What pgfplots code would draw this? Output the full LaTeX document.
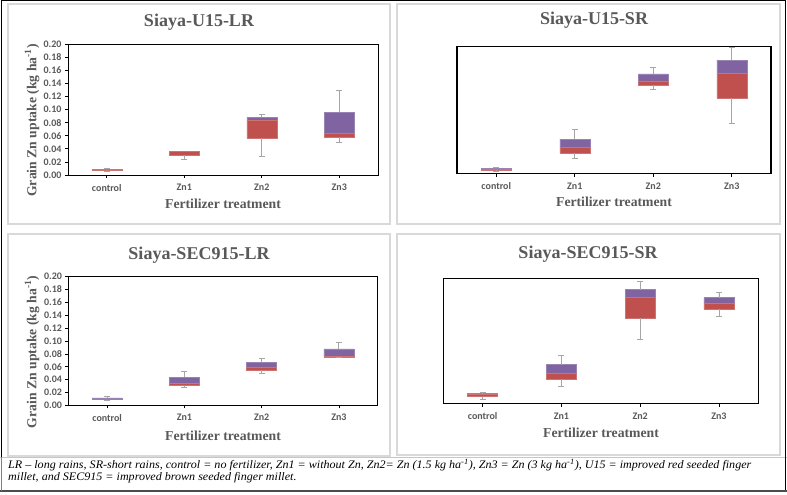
\documentclass[border=0pt]{standalone}
\usepackage{pgfplots}
\pgfplotsset{compat=1.18}
\usepackage{pgfplotstable}
\usepackage{fontspec}
\setmainfont{Liberation Serif}
\newfontfamily\calibri{Carlito}

\definecolor{boxred}{HTML}{C0504D}
\definecolor{boxpurple}{HTML}{8064A2}
\definecolor{txtgray}{HTML}{595959}
\definecolor{framegray}{HTML}{D9D9D9}
\definecolor{whiskergray}{HTML}{A6A6A6}

% five-number summaries: x, minimum, lower quartile, median, upper quartile, maximum
\pgfplotstableread{
x  min    q1     med    q3     max
0  0.005  0.0066 0.0084 0.0087 0.0095
1  0.024  0.030  0.0355 0.0360 0.0365
2  0.029  0.056  0.083  0.088  0.093
3  0.050  0.058  0.064  0.096  0.129
}\uLR
\pgfplotstableread{
x  min    q1     med    q3     max
0  0.004  0.0052 0.0065 0.0084 0.0105
1  0.024  0.0325 0.041  0.0546 0.070
2  0.133  0.140  0.146  0.157  0.1675
3  0.079  0.119  0.158  0.179  0.199
}\uSR
\pgfplotstableread{
x  min    q1     med    q3     max
0  0.0078 0.0088 0.0094 0.0114 0.0135
1  0.028  0.0306 0.0337 0.044  0.053
2  0.049  0.0544 0.0596 0.0668 0.0736
3  0.074  0.0751 0.0767 0.0876 0.098
}\sLR
\pgfplotstableread{
x  min    q1     med    q3     max
0  0.0064 0.0112 0.0149 0.016  0.018
1  0.028  0.0388 0.0484 0.0622 0.077
2  0.102  0.136  0.170  0.182  0.195
3  0.139  0.1505 0.161  0.169  0.177
}\sSR

\pgfplotsset{
  zbox/.style={
    scale only axis,
    xmin=-0.5, xmax=3.5, ymin=0, ymax=0.2,
    xtick={0,1,2,3}, xticklabels={control,Zn1,Zn2,Zn3},
    ytick={0,0.02,0.04,0.06,0.08,0.10,0.12,0.14,0.16,0.18,0.20},
    yticklabel style={/pgf/number format/.cd, fixed, fixed zerofill, precision=2},
    xticklabel style={yshift=-2.5pt},
    /pgf/number format/assume math mode=true,
    ybar stacked, bar width=30pt,
    tick align=outside, tick pos=left, major tick length=3pt,
    tick style={black, line width=0.6pt},
    ticklabel style={font=\calibri\bfseries\fontsize{10}{10}\selectfont, text=txtgray},
    clip=false,
  },
  noyticks/.style={ytick=\empty, axis line style={black, line width=1.4pt}},
  thinframe/.style={axis line style={black, line width=0.7pt}},
  error bars/whisk/.style={error bar style={draw=whiskergray, line width=0.8pt},
    error mark options={rotate=90, draw=whiskergray, mark size=3pt, line width=0.8pt}},
}

% one box-and-whisker series per table
\newcommand\boxes[1]{%
  \addplot[draw=none, fill=none, error bars/.cd, y dir=minus, y explicit, whisk]
    table[x=x, y=q1, y error minus expr=\thisrow{q1}-\thisrow{min}] {#1};
  \addplot[fill=boxred, draw=boxred!80!white, line width=0.5pt]
    table[x=x, y expr=\thisrow{med}-\thisrow{q1}] {#1};
  \addplot[fill=boxpurple, draw=boxpurple!80!white, line width=0.5pt,
    error bars/.cd, y dir=plus, y explicit, whisk]
    table[x=x, y expr=\thisrow{q3}-\thisrow{med}, y error plus expr=\thisrow{max}-\thisrow{q3}] {#1};
}

\begin{document}
\begin{tikzpicture}[x=1pt, y=1pt]
\useasboundingbox (0,0) rectangle (787,495);
\fill[white] (0,0) rectangle (787,495);

% chart frames
\draw[framegray, line width=1.2pt] (8,271) rectangle (390,491);
\draw[framegray, line width=1.2pt] (397,271) rectangle (780,491);
\draw[framegray, line width=1.2pt] (8,39) rectangle (390,261);
\draw[framegray, line width=1.2pt] (397,40) rectangle (780,261);

\begin{axis}[zbox, thinframe, at={(68pt,320pt)}, anchor=south west, width=310pt, height=131pt]
\boxes{\uLR}
\end{axis}
\begin{axis}[zbox, noyticks, at={(457pt,321.3pt)}, anchor=south west, width=314pt, height=127pt]
\boxes{\uSR}
\end{axis}
\begin{axis}[zbox, thinframe, at={(68.5pt,89.7pt)}, anchor=south west, width=309pt, height=128.6pt]
\boxes{\sLR}
\end{axis}
\begin{axis}[zbox, noyticks, at={(443.3pt,91.3pt)}, anchor=south west, width=315pt, height=125.4pt]
\boxes{\sSR}
\end{axis}

% titles and axis labels
\tikzset{ttl/.style={text=txtgray, font=\bfseries\fontsize{18}{18}\selectfont, inner sep=0pt},
         lbl/.style={text=txtgray, font=\bfseries\fontsize{13.7}{14}\selectfont, inner sep=0pt}}
\node[ttl] at (199,472.3) {Siaya-U15-LR};
\node[ttl] at (594,475) {Siaya-U15-SR};
\node[ttl] at (199,240) {Siaya-SEC915-LR};
\node[ttl] at (588,241) {Siaya-SEC915-SR};
\node[lbl] at (223,291) {Fertilizer treatment};
\node[lbl] at (614,293) {Fertilizer treatment};
\node[lbl] at (223,59) {Fertilizer treatment};
\node[lbl] at (601,62) {Fertilizer treatment};
\node[lbl, rotate=90] at (32,374.5) {Grain Zn uptake (kg ha\textsuperscript{-1})};
\node[lbl, rotate=90] at (32,143) {Grain Zn uptake (kg ha\textsuperscript{-1})};

% footnote box
\draw[framegray!80!gray, line width=0.8pt] (0,38) -- (787,38);
\draw[black, line width=1pt] (1,38) -- (1,494.5) -- (785.5,494.5) -- (785.5,4);
\draw[gray!60!black, line width=1.6pt] (0,4) -- (787,4);
\draw[gray, line width=0.8pt] (1,4) -- (1,38);
\tikzset{foot/.style={anchor=base west, inner sep=0pt, xscale=1.05, font=\itshape\fontsize{11.5}{11.5}\selectfont}}
\node[foot] at (8,26)
  {LR -- long rains, SR-short rains, control = no fertilizer, Zn1 = without Zn, Zn2= Zn (1.5 kg ha\textsuperscript{-1}), Zn3 = Zn (3 kg ha\textsuperscript{-1}), U15 = improved red seeded finger};
\node[foot] at (8,14.5)
  {millet, and SEC915 = improved brown seeded finger millet.};
\end{tikzpicture}
\end{document}
